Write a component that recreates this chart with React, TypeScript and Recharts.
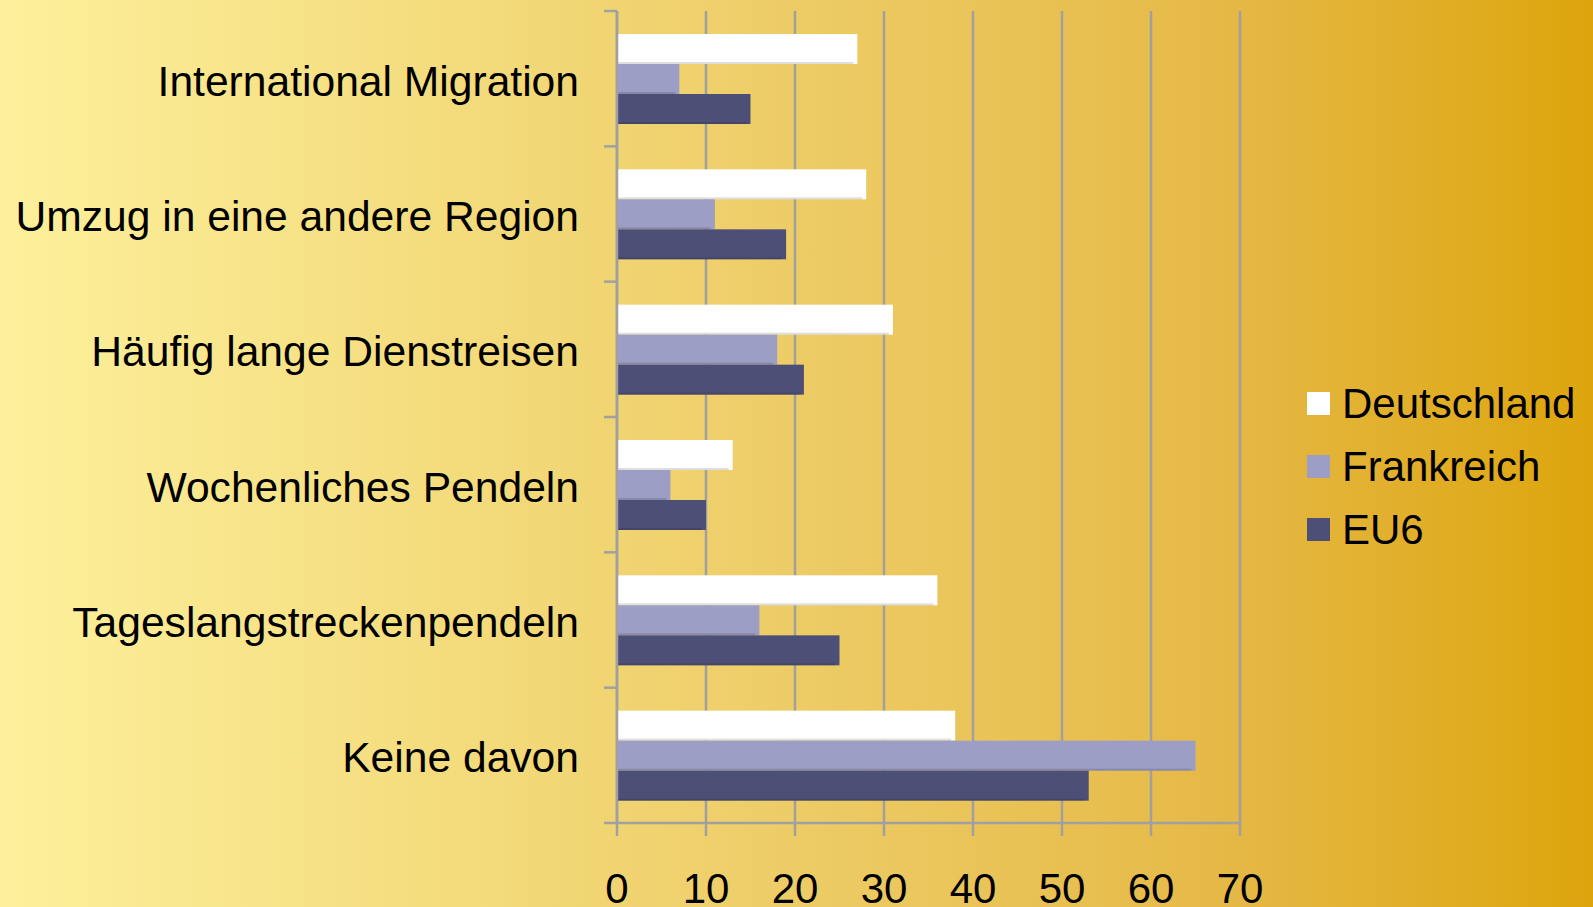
import { BarChart, Bar, XAxis, YAxis, CartesianGrid, Legend } from "recharts";
import type { CSSProperties } from "react";

const categories = [
  "International Migration",
  "Umzug in eine andere Region",
  "Häufig lange Dienstreisen",
  "Wochenliches Pendeln",
  "Tageslangstreckenpendeln",
  "Keine davon",
];
const deutschland = [27, 28, 31, 13, 36, 38];
const frankreich = [7, 11, 18, 6, 16, 65];
const eu6 = [15, 19, 21, 10, 25, 53];
const xTicks = [0, 10, 20, 30, 40, 50, 60, 70];

const SERIES = [
  { key: "deutschland", name: "Deutschland", color: "#ffffff" },
  { key: "frankreich", name: "Frankreich", color: "#9c9ec6" },
  { key: "eu6", name: "EU6", color: "#4c5077" },
];

const data = categories.map((category, i) => ({
  category,
  deutschland: deutschland[i],
  frankreich: frankreich[i],
  eu6: eu6[i],
}));

const W = 1593;
const H = 907;
const TOP = 11;
const X_AXIS_H = 84;
const Y_AXIS_W = 617;
const BAND = (H - TOP - X_AXIS_H) / categories.length;
const GRID = "#a0a0a0";
const FONT = "'Liberation Sans', Arial, sans-serif";

function CategoryTick(props: any) {
  const { x, y, payload, index } = props;
  const axisX = x + 38;
  const last = index === categories.length - 1;
  return (
    <g>
      <line x1={axisX - 13} x2={axisX} y1={y - BAND / 2} y2={y - BAND / 2} stroke={GRID} strokeWidth={2.5} />
      {last && (
        <line x1={axisX - 13} x2={axisX} y1={y + BAND / 2} y2={y + BAND / 2} stroke={GRID} strokeWidth={2.5} />
      )}
      <text x={x} y={y} dy="0.4em" textAnchor="end" fontSize={42.6} fontFamily={FONT} fill="#000">
        {payload.value}
      </text>
    </g>
  );
}

// bar with the faint bottom edge the original has
function EdgeBar(props: any) {
  const { x, y, width, height, fill } = props;
  if (!width || width <= 0) return null;
  return (
    <g>
      <rect x={x} y={y} width={width} height={height} fill={fill} />
      <rect x={x} y={y + height - 2} width={Math.max(0, width - 4)} height={2} fill="rgba(0,0,0,0.13)" />
    </g>
  );
}

function LegendBox({ payload }: any) {
  const items = [...(payload || [])].sort(
    (a: any, b: any) =>
      SERIES.findIndex((s) => s.name === a.value) - SERIES.findIndex((s) => s.name === b.value)
  );
  return (
    <div style={{ fontFamily: FONT, fontSize: 42, color: "#000" }}>
      {items.map((entry: any) => (
        <div key={entry.value} style={legendRow}>
          <span style={{ ...swatch, background: entry.color }} />
          <span>{entry.value}</span>
        </div>
      ))}
    </div>
  );
}

export default function App() {
  return (
    <div style={page}>
      <BarChart
        width={W}
        height={H}
        data={data}
        layout="vertical"
        margin={{ top: TOP, right: W - 1240, bottom: 0, left: 0 }}
        barGap={0}
        barSize={30}
      >
        <CartesianGrid horizontal={false} vertical stroke={GRID} strokeWidth={2.5} />
        <XAxis
          type="number"
          domain={[0, 70]}
          ticks={xTicks}
          height={X_AXIS_H}
          tickSize={13}
          tickMargin={37}
          tick={{ fontSize: 42, fontFamily: FONT, fill: "#000" }}
          tickLine={{ stroke: GRID, strokeWidth: 2.5 }}
          axisLine={{ stroke: GRID, strokeWidth: 2.5 }}
        />
        <YAxis
          type="category"
          dataKey="category"
          width={Y_AXIS_W}
          tickSize={0}
          tickMargin={38}
          tickLine={false}
          tick={<CategoryTick />}
          axisLine={{ stroke: GRID, strokeWidth: 2.5 }}
          interval={0}
        />
        <Legend
          layout="vertical"
          align="center"
          verticalAlign="middle"
          wrapperStyle={{ left: 1307, top: 372, width: 286 }}
          content={<LegendBox />}
        />
        {SERIES.map((s) => (
          <Bar
            key={s.key}
            dataKey={s.key}
            name={s.name}
            fill={s.color}
            shape={<EdgeBar />}
            isAnimationActive={false}
          />
        ))}
      </BarChart>
    </div>
  );
}

const page: CSSProperties = {
  position: "absolute",
  left: 0,
  top: 0,
  width: W,
  height: H,
  overflow: "hidden",
  background:
    "linear-gradient(to right, #fdf09c 0%, #f5de80 25%, #edcc66 50%, #e5b845 78%, #dda50c 100%)",
};

const legendRow: CSSProperties = {
  display: "flex",
  alignItems: "center",
  height: 63,
  whiteSpace: "nowrap",
};

const swatch: CSSProperties = {
  display: "inline-block",
  width: 23,
  height: 23,
  marginRight: 12,
};
